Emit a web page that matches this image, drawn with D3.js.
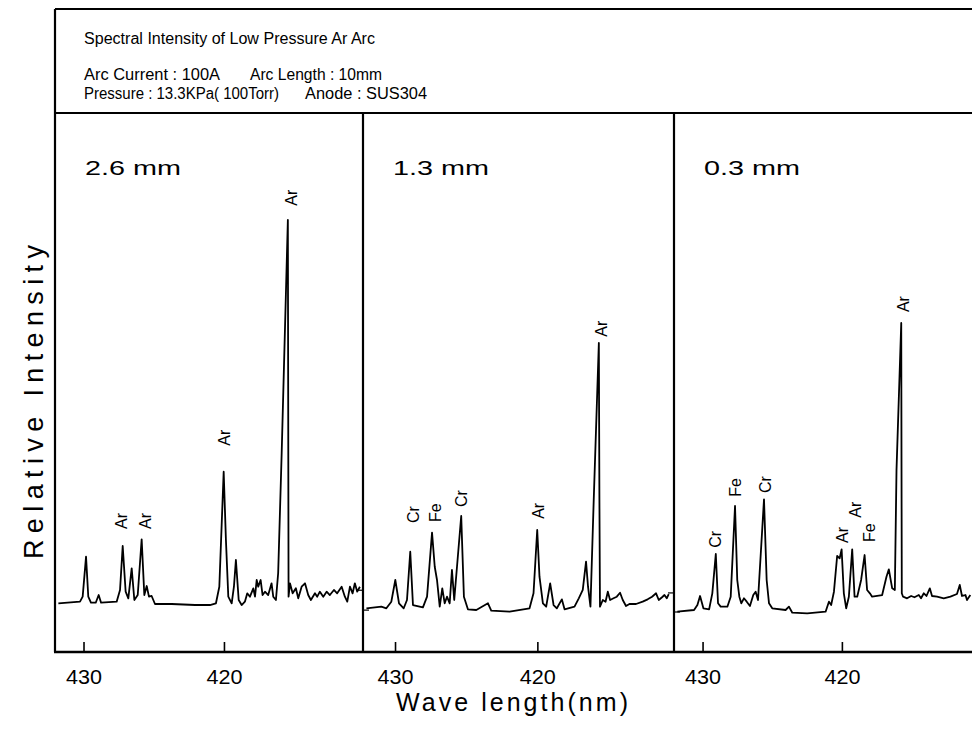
<!DOCTYPE html>
<html><head><meta charset="utf-8">
<script src="https://cdn.jsdelivr.net/npm/d3@7"></script>
<style>body{margin:0;background:#fff}</style>
</head><body>
<svg id="chart" width="972" height="744"></svg>
<script>
// ---------------- DATA ----------------
const panelNames = ["2.6 mm", "1.3 mm", "0.3 mm"];
const panelDomains = [[432.03, 410.1], [432.25, 410.4], [432.05, 409.8]];
const tickValues = [430, 420];
const tickLabels = ["430", "420"];

// [wavelength nm, relative intensity]
const spectrum26 = [[431.79,9.07],[430.25,9.37],[430.06,10.30],[429.82,17.75],[429.66,10.30],[429.47,9.18],[429.13,9.18],[428.92,10.61],[428.75,9.18],[427.64,9.37],[427.40,11.55],[427.21,19.74],[427.00,11.23],[426.81,10.0],[426.57,15.59],[426.38,9.68],[426.14,10.61],[425.86,20.99],[425.67,10.61],[425.50,12.29],[425.34,10.30],[425.15,10.43],[424.91,8.94],[423.72,8.94],[422.06,8.75],[421.00,8.75],[420.57,9.07],[420.33,12.16],[420.02,33.58],[419.86,20.86],[419.69,10.30],[419.45,9.07],[419.29,12.16],[419.15,17.13],[418.95,9.68],[418.74,8.75],[418.51,9.37],[418.34,10.93],[418.15,10.30],[417.91,11.86],[417.79,10.30],[417.67,13.41],[417.56,12.16],[417.39,13.41],[417.25,10.61],[417.08,11.23],[416.85,10.61],[416.61,12.79],[416.49,10.30],[416.30,9.68],[416.14,14.71],[415.89,37.06],[415.45,80.45],[415.40,10.30],[415.30,12.79],[415.11,10.93],[414.88,11.86],[414.71,10.0],[414.47,12.16],[414.23,12.79],[414.00,10.61],[413.81,9.68],[413.52,10.93],[413.36,10.30],[413.17,11.23],[412.93,10.30],[412.69,11.23],[412.46,10.61],[412.17,11.55],[411.94,10.93],[411.62,12.16],[411.39,10.30],[411.22,9.37],[411.03,12.16],[410.84,10.93],[410.68,12.79],[410.51,11.23],[410.32,12.16]];

const spectrum13 = [[432.01,8.14],[430.96,8.44],[430.61,8.14],[430.26,9.37],[429.98,13.41],[429.72,9.07],[429.39,8.14],[429.16,9.68],[428.93,18.68],[428.74,8.75],[428.04,8.32],[427.75,10.30],[427.40,22.22],[427.21,15.88],[427.05,13.41],[426.86,8.44],[426.68,11.86],[426.51,9.07],[426.35,10.30],[426.16,9.07],[426.00,15.27],[425.84,9.68],[425.35,25.33],[425.16,10.30],[424.88,7.95],[424.29,7.82],[423.47,9.07],[423.24,7.69],[421.95,7.50],[420.55,8.14],[420.27,10.93],[420.01,22.72],[419.85,14.02],[419.61,9.07],[419.38,8.44],[419.10,12.79],[418.86,8.75],[418.63,8.14],[418.28,9.81],[418.09,7.95],[417.39,8.44],[417.09,10.0],[416.81,11.55],[416.58,16.82],[416.44,12.16],[416.27,8.44],[416.04,28.31],[415.68,57.54],[415.64,28.31],[415.60,8.44],[415.40,9.68],[415.21,9.37],[415.05,11.23],[414.89,9.68],[414.65,10.0],[414.42,10.30],[414.19,11.04],[414.00,9.68],[413.77,8.57],[413.53,8.94],[413.07,8.94],[412.60,9.37],[412.25,9.81],[411.94,10.30],[411.66,10.93],[411.47,9.68],[411.24,10.19],[411.07,10.61],[410.91,10.0],[410.77,10.80]];

const spectrum03 = [[431.81,7.50],[430.61,7.82],[430.37,8.75],[430.18,10.43],[429.94,8.14],[429.53,7.95],[429.30,10.93],[429.05,18.25],[428.89,9.07],[428.70,8.44],[428.22,8.44],[427.98,10.30],[427.67,27.19],[427.51,13.41],[427.36,10.30],[427.22,9.07],[427.03,10.0],[426.83,9.37],[426.60,8.57],[426.36,10.61],[426.19,11.23],[426.02,9.68],[425.59,28.44],[425.40,13.41],[425.23,9.07],[425.00,8.14],[424.04,7.82],[423.80,8.44],[423.56,7.32],[422.49,7.21],[421.17,7.50],[420.93,9.37],[420.77,8.75],[420.57,11.23],[420.34,17.88],[420.16,17.45],[420.02,19.12],[419.86,10.93],[419.69,8.14],[419.50,10.30],[419.26,19.12],[419.09,10.30],[418.90,10.30],[418.62,13.41],[418.37,18.06],[418.19,11.55],[417.99,10.93],[417.83,10.30],[417.11,10.61],[416.80,14.02],[416.63,15.40],[416.39,11.86],[416.20,11.55],[416.08,33.89],[415.74,61.27],[415.72,33.89],[415.70,10.93],[415.61,10.30],[415.32,10.0],[415.03,10.43],[414.79,10.19],[414.48,10.61],[414.32,10.0],[414.12,10.93],[413.93,10.43],[413.69,11.86],[413.53,10.43],[413.17,10.30],[412.69,10.0],[412.21,10.30],[411.74,10.80],[411.54,12.48],[411.38,10.43],[411.13,10.61],[411.02,9.68],[410.78,10.61]];

// [element, wavelength, intensity at label start]
const labels26 = [["Ar",427.30,22.9],["Ar",425.59,22.9],["Ar",420.00,38.4],["Ar",415.20,83.1]];
const labels13 = [["Cr",428.74,24.0],["Fe",427.19,24.2],["Cr",425.33,27.0],["Ar",419.93,24.8],["Ar",415.54,58.7]];
const labels03 = [["Cr",429.10,19.4],["Fe",427.67,28.9],["Cr",425.48,29.6],["Ar",419.96,20.3],["Ar",419.07,25.0],["Fe",418.06,20.5],["Ar",415.59,63.3]];

// zero markers on panel borders [left side, right side] (intensity)
const borderMarks = [[null, 11.5], [7.8, 11.0], [7.45, null]];

const headerLines = [
  {t:"Spectral Intensity of Low Pressure Ar Arc", x:84, y:44, w:291},
  {t:"Arc Current : 100A", x:84, y:80, w:136},
  {t:"Arc Length : 10mm", x:250, y:80, w:132},
  {t:"Pressure : 13.3KPa( 100Torr)", x:84, y:99, w:195},
  {t:"Anode : SUS304", x:305, y:99, w:122}
];

// ---------------- LAYOUT ----------------
const spectra = [spectrum26, spectrum13, spectrum03];
const peakLabels = [labels26, labels13, labels03];
const panelX = [[55,363],[363,674],[674,984]];
const frameTop = 9, headerBottom = 113, axisY = 652, frameLeft = 55, frameRight = 990;
const font = "'Liberation Sans', Arial, sans-serif";

const svg = d3.select("#chart");
svg.append("rect").attr("width",972).attr("height",744).attr("fill","#fff");
const y = d3.scaleLinear().domain([0,100]).range([axisY, 115]);
const defs = svg.append("defs");

panelNames.forEach((name, i) => {
  const [x0, x1] = panelX[i];
  const x = d3.scaleLinear().domain(panelDomains[i]).range([x0, x1]);
  defs.append("clipPath").attr("id","clip"+i)
    .append("rect").attr("x",x0).attr("y",headerBottom).attr("width",x1-x0).attr("height",axisY-headerBottom);

  svg.append("path").datum(spectra[i])
    .attr("clip-path","url(#clip"+i+")")
    .attr("fill","none").attr("stroke","#000").attr("stroke-width",1.8)
    .attr("stroke-linejoin","round")
    .attr("d", d3.line().x(d=>x(d[0])).y(d=>y(d[1])));

  peakLabels[i].forEach(([t,l,v]) => {
    svg.append("text")
      .attr("transform",`translate(${x(l)},${y(v)}) rotate(-90)`)
      .attr("dy","0.36em")
      .attr("font-family",font).attr("font-size",16).attr("fill","#000")
      .text(t);
  });

  svg.append("text").attr("x",x0+30).attr("y",175)
    .attr("font-family",font).attr("font-size",21).attr("fill","#000")
    .attr("textLength",96).attr("lengthAdjust","spacingAndGlyphs")
    .text(name);

  const axis = d3.axisBottom(x).tickValues(tickValues).tickSize(-10).tickPadding(17)
    .tickFormat((d,j)=>tickLabels[j]);
  const ag = svg.append("g").attr("transform",`translate(0,${axisY})`).call(axis);
  ag.select(".domain").remove();
  ag.selectAll(".tick line").attr("stroke","#000").attr("stroke-width",1.6);
  ag.selectAll(".tick text").attr("font-family",font).attr("font-size",21).attr("fill","#000")
    .attr("textLength",36).attr("lengthAdjust","spacingAndGlyphs");

  const [ml, mr] = borderMarks[i];
  if (ml !== null) svg.append("line").attr("x1",x0).attr("x2",x0+6).attr("y1",y(ml)).attr("y2",y(ml)).attr("stroke","#000").attr("stroke-width",1.2);
  if (mr !== null) svg.append("line").attr("x1",x1-6).attr("x2",x1).attr("y1",y(mr)).attr("y2",y(mr)).attr("stroke","#000").attr("stroke-width",1.2);
});

// frame
const frame = svg.append("g").attr("stroke","#000").attr("fill","none");
frame.append("line").attr("x1",frameLeft).attr("x2",frameRight).attr("y1",frameTop).attr("y2",frameTop).attr("stroke-width",2);
frame.append("line").attr("x1",frameLeft).attr("x2",frameLeft).attr("y1",frameTop).attr("y2",axisY).attr("stroke-width",2.2);
frame.append("line").attr("x1",frameLeft).attr("x2",frameRight).attr("y1",headerBottom).attr("y2",headerBottom).attr("stroke-width",2);
[363, 674].forEach(px => frame.append("line").attr("x1",px).attr("x2",px).attr("y1",headerBottom).attr("y2",axisY).attr("stroke-width",2.2));
frame.append("line").attr("x1",frameLeft-1).attr("x2",frameRight).attr("y1",axisY).attr("y2",axisY).attr("stroke-width",2.6);

headerLines.forEach(h => {
  svg.append("text").attr("x",h.x).attr("y",h.y)
    .attr("font-family",font).attr("font-size",16).attr("fill","#000")
    .attr("textLength",h.w).attr("lengthAdjust","spacingAndGlyphs")
    .text(h.t);
});

svg.append("text").attr("x",512).attr("y",711).attr("text-anchor","middle")
  .attr("font-family",font).attr("font-size",25).attr("fill","#000")
  .attr("textLength",232).attr("lengthAdjust","spacing")
  .text("Wave length(nm)");

svg.append("text").attr("transform","translate(43,402) rotate(-90)").attr("text-anchor","middle")
  .attr("font-family",font).attr("font-size",27).attr("fill","#000")
  .attr("textLength",314).attr("lengthAdjust","spacing")
  .text("Relative Intensity");
</script>
</body></html>
